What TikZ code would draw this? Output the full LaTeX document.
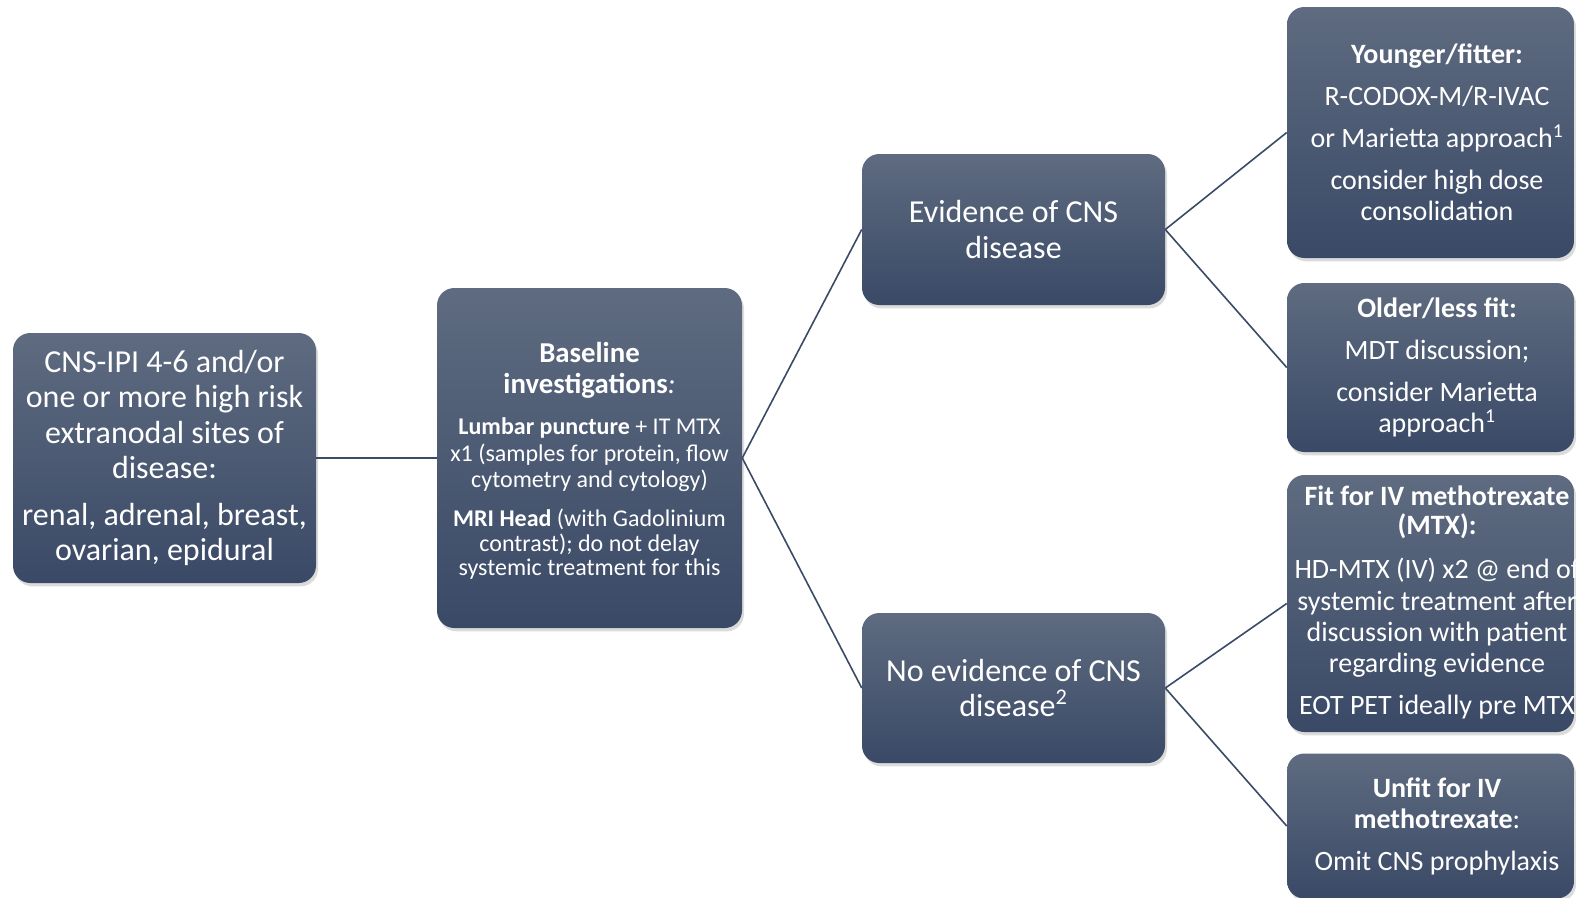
\documentclass[tikz,border=0pt]{standalone}
\usepackage{fontspec}
\setmainfont{Carlito}
\usetikzlibrary{shadows}
\definecolor{boxtop}{HTML}{5E6B80}
\definecolor{boxbot}{HTML}{3A4966}
\definecolor{linec}{HTML}{3B4A66}
\newcommand\bhd[1]{{\fontsize{21.6}{24}\selectfont\bfseries #1}}
\tikzset{
  x=0.75pt, y=-0.75pt,
  box/.style={rounded corners=13pt, top color=boxtop, bottom color=boxbot,
    draw=none, text=white, align=center, inner sep=0pt,
    drop shadow={opacity=0.28, shadow xshift=1.5pt, shadow yshift=-2.5pt}},
  txt/.style={text=white, align=center, inner sep=0pt},
  conn/.style={draw=linec, line width=1.2pt},
  bigf/.style={font=\fontsize{24}{26.3}\selectfont},
  smallf/.style={font=\fontsize{18}{20}\selectfont},
  rightf/.style={font=\fontsize{21}{23.4}\selectfont},
  rbox/.style={box, minimum width=215.25pt},
}
\begin{document}
\begin{tikzpicture}
\useasboundingbox (0,0) rectangle (1576,897);
\fill[white] (0,0) rectangle (1576,897);

\node[box, bigf, minimum width=227.25pt, minimum height=187.5pt] (b1) at (164.5,458)
  {CNS-IPI 4-6 and/or\\ one or more high risk\\ extranodal sites of\\ disease:\\[9pt]
   renal, adrenal, breast,\\ ovarian, epidural};

\node[box, minimum width=228.75pt, minimum height=255pt] (b2) at (589.5,458) {};
\node[txt, smallf] (b2t) at (589.5,461)
  {\bhd{Baseline}\\[3.5pt] \bhd{investigations}{\fontsize{21.6}{24}\selectfont\itshape :}\\[10.5pt]
   \textbf{Lumbar puncture} + IT MTX\\ x1 (samples for protein, flow\\ cytometry and cytology)\\[9pt]
   \textbf{MRI Head} (with Gadolinium\\[-1.5pt] contrast); do not delay\\[-1.5pt] systemic treatment for this};

\node[box, bigf, minimum width=227.25pt, minimum height=113.25pt] (b3) at (1013.5,229.5)
  {Evidence of CNS\\ disease};

\node[box, bigf, minimum width=227.25pt, minimum height=112.5pt] (b4) at (1013.5,688)
  {No evidence of CNS\\ disease\textsuperscript{2}};

\node[rbox, minimum height=188.25pt] (r1) at (1430.5,132.5) {};
\node[txt, rightf] (r1t) at (1437,132.5)
  {\textbf{Younger/fitter:}\\[8pt] R-CODOX-M/R-IVAC\\[8pt] or Marietta approach\textsuperscript{1}\\[8pt]
   consider high dose\\ consolidation};

\node[rbox, minimum height=126.75pt] (r2) at (1430.5,367.5) {};
\node[txt, rightf] (r2t) at (1437,367.5)
  {\textbf{Older/less fit:}\\[8pt] MDT discussion;\\[8pt] consider Marietta\\ approach\textsuperscript{1}};

\node[rbox, minimum height=192.75pt] (r3) at (1430.5,603.5) {};
\node[txt, rightf] (r3t) at (1437,602.5)
  {\textbf{Fit for IV methotrexate}\\[-2pt] \textbf{(MTX):}\\[10pt] HD-MTX (IV) x2 @ end of\\ systemic treatment after\\
   discussion with patient\\ regarding evidence\\[8pt] EOT PET ideally pre MTX};

\node[rbox, minimum height=108.75pt] (r4) at (1430.5,826) {};
\node[txt, rightf] (r4t) at (1437,826.5)
  {\textbf{Unfit for IV}\\ \textbf{methotrexate}:\\[8pt] Omit CNS prophylaxis};

\draw[conn] (b1.east) -- (b2.west);
\draw[conn] (b2.east) -- (b3.west);
\draw[conn] (b2.east) -- (b4.west);
\draw[conn] (b3.east) -- (r1.west);
\draw[conn] (b3.east) -- (r2.west);
\draw[conn] (b4.east) -- (r3.west);
\draw[conn] (b4.east) -- (r4.west);
\end{tikzpicture}
\end{document}
